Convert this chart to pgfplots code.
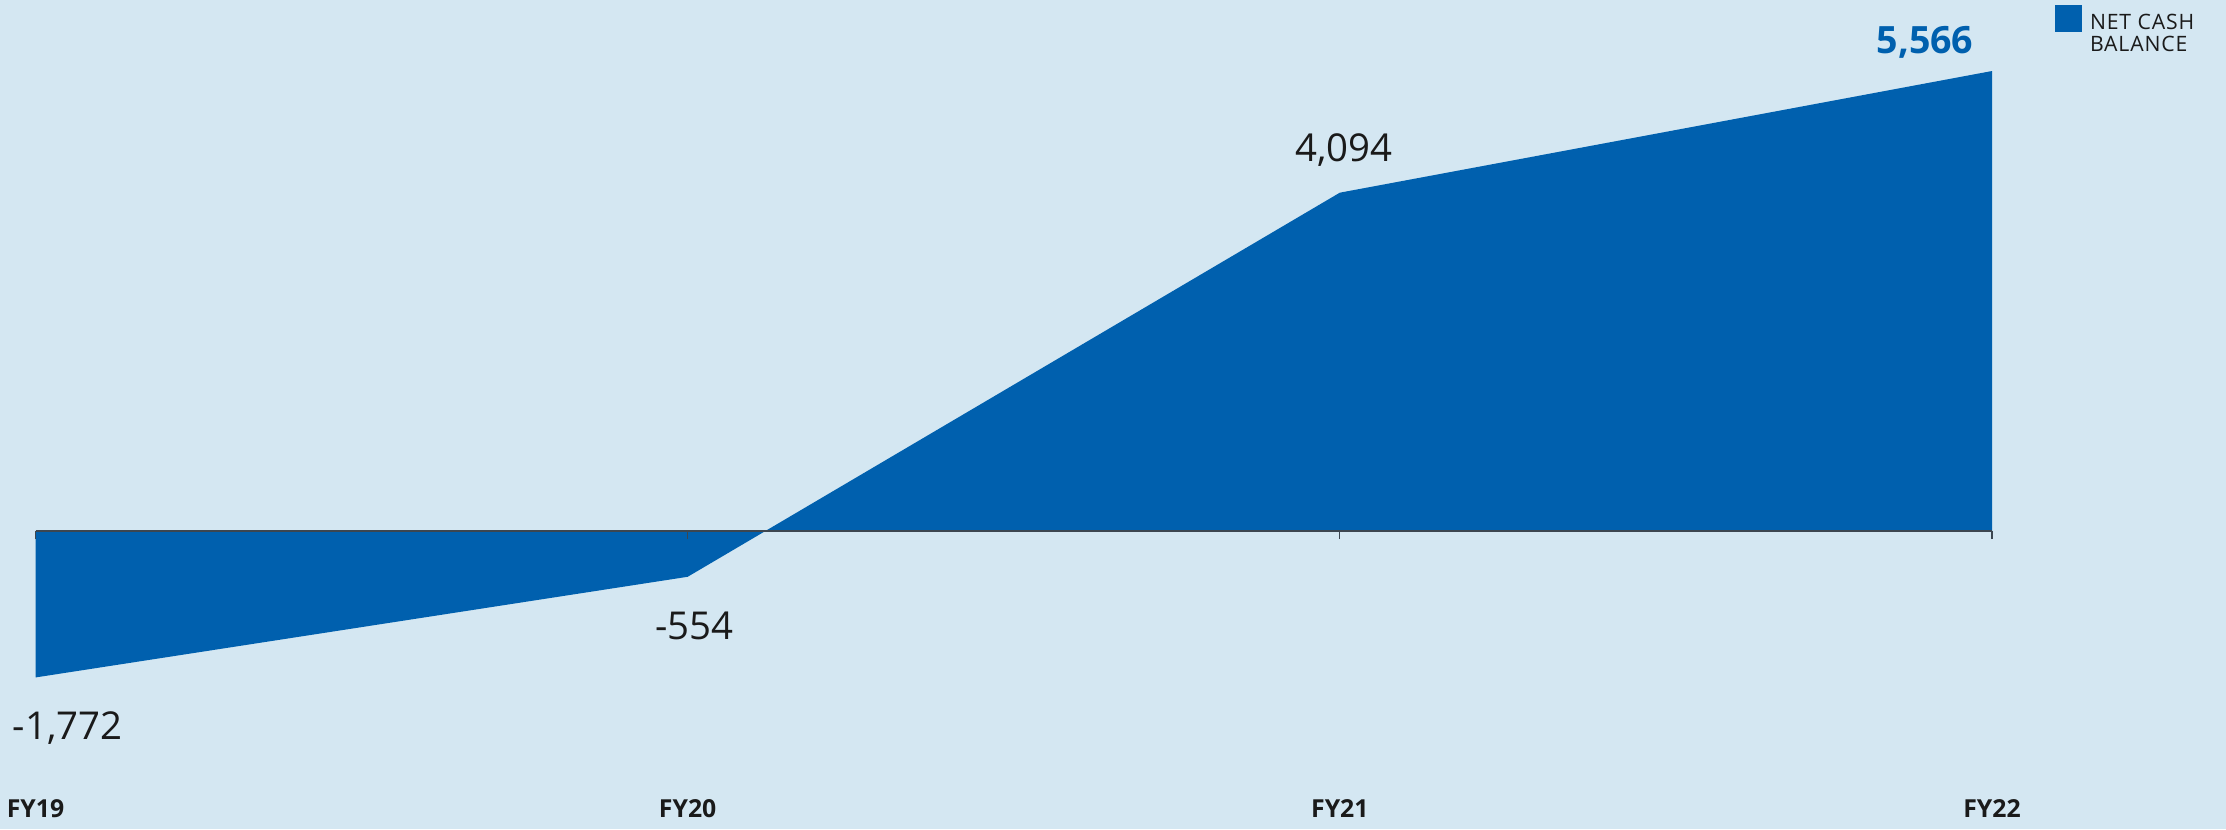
\documentclass[border=0pt]{standalone}
\usepackage{fontspec}
\setmainfont{Open Sans}
\usepackage{pgfplots}
\pgfplotsset{compat=1.18}
\definecolor{bg}{HTML}{D4E7F2}
\definecolor{netblue}{HTML}{0060AE}
\definecolor{txt}{HTML}{1A1A1A}
\definecolor{axisgray}{HTML}{3C4650}
\begin{document}
\begin{tikzpicture}
\fill[bg] (0,0) rectangle (556.5pt,207.25pt);
\useasboundingbox (0,0) rectangle (556.5pt,207.25pt);
\begin{axis}[
  at={(8.875pt,12.52pt)}, anchor=south west,
  scale only axis, width=489.125pt, height=185.95pt,
  xmin=0, xmax=3, ymin=-3000, ymax=6000,
  axis x line*=middle, axis y line=none,
  x axis line style={axisgray, line width=0.4pt},
  xtick={0,1,2,3}, xticklabels={FY19,FY20,FY21,FY22},
  xtick style={axisgray, line width=0.3pt},
  tick align=outside, major tick length=2pt,
  xticklabel style={anchor=base, yshift=-69.6pt, font=\fontsize{6.2}{7}\selectfont\bfseries, text=txt},
  axis on top, clip=false,
  legend style={at={(1.0322,1.0405)}, anchor=north west, draw=none, fill=none,
    inner sep=0pt, outer sep=0pt, column sep=2pt,
    font=\fontsize{5.3}{5.5}\selectfont\addfontfeature{LetterSpace=4}, text=txt,
    nodes={inner sep=0pt}},
  legend image code/.code={\fill[#1] (0pt,-1.75pt) rectangle (6.75pt,5pt);},
]
\addplot[fill=netblue, draw=none] coordinates {(0,0) (0,-1772) (1,-554) (2,4094) (3,5566) (3,0)} -- cycle;
\addlegendentry{\begin{tabular}[t]{@{}l@{}}NET CASH\\BALANCE\end{tabular}}
\node[anchor=base, font=\fontsize{9.6}{11}\selectfont, text=txt, xshift=8.05pt, yshift=-15.4pt] at (axis cs:0,-1772) {-1,772};
\node[anchor=base, font=\fontsize{9.6}{11}\selectfont, text=txt, xshift=1.7pt, yshift=-15.8pt] at (axis cs:1,-554) {-554};
\node[anchor=base, font=\fontsize{9.6}{11}\selectfont, text=txt, xshift=1pt, yshift=7.9pt] at (axis cs:2,4094) {4,094};
\node[anchor=base, font=\fontsize{9.4}{11}\selectfont\bfseries, text=netblue, xshift=-16.75pt, yshift=4.4pt] at (axis cs:3,5566) {5,566};
\end{axis}
\end{tikzpicture}
\end{document}
